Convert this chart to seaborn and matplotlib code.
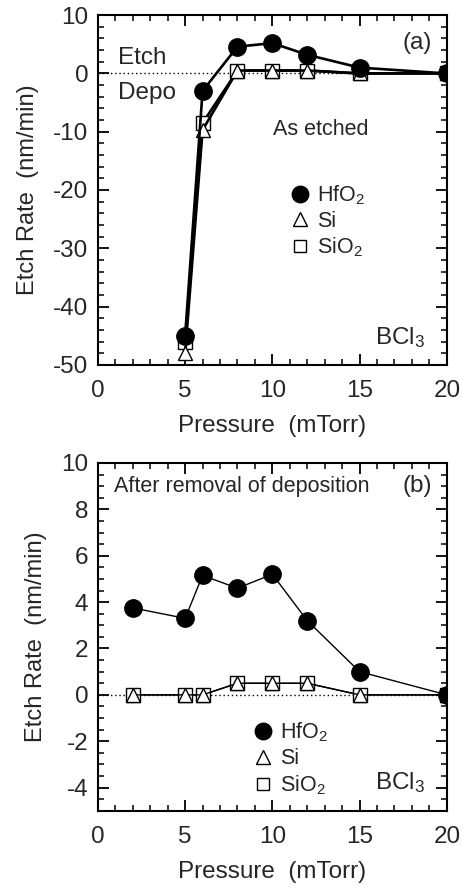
import numpy as np
import pandas as pd
import seaborn as sns
import matplotlib.pyplot as plt
from matplotlib.lines import Line2D
from matplotlib.ticker import MultipleLocator

sns.set_theme(style="ticks")
plt.rcParams['font.family'] = ['Liberation Sans', 'DejaVu Sans']
plt.rcParams['mathtext.fontset'] = 'custom'
plt.rcParams['mathtext.rm'] = 'Liberation Sans'
plt.rcParams['mathtext.it'] = 'Liberation Sans'
plt.rcParams['axes.unicode_minus'] = False

# panel (a): as etched
pressure_a = [5, 6, 8, 10, 12, 15, 20]
hfo2_a = [-45.0, -3.0, 4.6, 5.2, 3.2, 1.0, 0.0]
si_a = [-48.0, -9.7, 0.5, 0.5, 0.5, 0.0, 0.0]
sio2_a = [-46.0, -8.5, 0.5, 0.5, 0.5, 0.0, 0.0]

# panel (b): after removal of deposition
pressure_b = [2, 5, 6, 8, 10, 12, 15, 20]
hfo2_b = [3.75, 3.3, 5.15, 4.6, 5.2, 3.2, 1.0, 0.0]
si_b = [0.0, 0.0, 0.0, 0.5, 0.5, 0.5, 0.0, 0.0]
sio2_b = [0.0, 0.0, 0.0, 0.5, 0.5, 0.5, 0.0, 0.0]

labels = ['HfO$_2$', 'Si', 'SiO$_2$']
markers = ['o', '^', 's']
msizes = [12.5, 10.5, 9.5]

fig = plt.figure(figsize=(4.64, 8.92), dpi=100)
ax_a = fig.add_axes([0.211, 0.591, 0.752, 0.392])
ax_b = fig.add_axes([0.211, 0.091, 0.752, 0.390])


def draw(ax, x, series, lw):
    # open markers first, filled circles on top
    for vals, m, ms in list(zip(series, markers, msizes))[::-1]:
        face = 'black' if m == 'o' else 'white'
        sns.lineplot(x=x, y=vals, ax=ax, color='black', lw=lw, marker=m,
                     markersize=ms, markerfacecolor=face, markeredgecolor='black',
                     markeredgewidth=1.0, estimator=None, sort=False, zorder=3)
    ax.axhline(0, color='black', lw=1.0, ls=(0, (1, 2)), zorder=1)


def style(ax, ylim, ymaj, ymin):
    ax.set_xlim(0, 20)
    ax.set_ylim(*ylim)
    ax.xaxis.set_major_locator(MultipleLocator(5))
    ax.xaxis.set_minor_locator(MultipleLocator(1))
    ax.yaxis.set_major_locator(MultipleLocator(ymaj))
    ax.yaxis.set_minor_locator(MultipleLocator(ymin))
    ax.tick_params(which='both', direction='in', top=True, right=True, color='black')
    ax.tick_params(which='major', length=8, width=1.3, labelsize=17.5)
    ax.tick_params(which='minor', length=4.5, width=1.1)
    ax.tick_params(axis='x', which='major', pad=11)
    ax.tick_params(axis='y', which='major', pad=7)
    for sp in ax.spines.values():
        sp.set_linewidth(1.5)
        sp.set_color('black')
    ax.set_xlabel('Pressure  (mTorr)', fontsize=17.5, labelpad=9)
    ax.set_ylabel('Etch Rate  (nm/min)', fontsize=17, labelpad=10)


def legend(ax, xy):
    handles = [Line2D([], [], ls='none', marker=m, markersize=ms * 0.95,
                      markerfacecolor='black' if m == 'o' else 'white',
                      markeredgecolor='black', color='black')
               for m, ms in zip(markers, msizes)]
    ax.legend(handles, labels, loc='upper left', bbox_to_anchor=xy, frameon=False,
              fontsize=15.5, handletextpad=0.2, labelspacing=0.18, handlelength=1.2,
              borderpad=0)


draw(ax_a, pressure_a, [hfo2_a, si_a, sio2_a], 1.9)
style(ax_a, (-50, 10), 10, 2)
ax_a.text(1.15, 2.6, 'Etch', fontsize=17.5, va='center')
ax_a.text(1.15, -3.4, 'Depo', fontsize=17.5, va='center')
ax_a.text(12.8, -9.7, 'As etched', fontsize=15.5, ha='center', va='center')
ax_a.text(18.3, 5.2, '(a)', fontsize=17.5, ha='center', va='center')
ax_a.text(17.3, -45.4, 'BCl$_3$', fontsize=17.5, ha='center', va='center')
legend(ax_a, (0.51, 0.55))

draw(ax_b, pressure_b, [hfo2_b, si_b, sio2_b], 1.0)
style(ax_b, (-5, 10), 2, 0.5)
ax_b.text(0.92, 9.0, 'After removal of deposition', fontsize=15.5, va='center')
ax_b.text(18.3, 9.0, '(b)', fontsize=17.5, ha='center', va='center')
ax_b.text(17.3, -3.8, 'BCl$_3$', fontsize=17.5, ha='center', va='center')
legend(ax_b, (0.405, 0.29))

fig.savefig('out.png', dpi=100)
